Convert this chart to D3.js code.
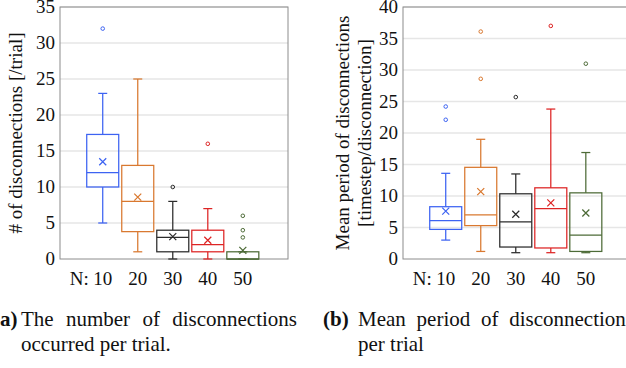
<!DOCTYPE html>
<head>
  <meta charset="utf-8">
  <script src="https://d3js.org/d3.v7.min.js"></script>
  <style>
    body { margin: 0; background: #fff; }
    svg { width: 626px; height: 368px; display: block; }
  </style>
</head>

<body>
  <svg></svg>

  <script>
    const groups = ['10', '20', '30', '40', '50'];
    const colors = ['#3d63f2', '#d9782f', '#2b2b2b', '#dd2424', '#4d6b37'];

    // (a) number of disconnections per trial
    const countLow = [5, 1, 0, 0, 0];
    const countQ1 = [10, 3.8, 1, 1, 0];
    const countMedian = [12, 8, 3, 2, 0];
    const countQ3 = [17.3, 13, 4, 4, 1];
    const countHigh = [23, 25, 8, 7, 1];
    const countMean = [13.5, 8.6, 3.1, 2.6, 1.2];
    const countOutliers = [[32], [], [10], [16], [3, 4, 6]];
    const countTicks = [0, 5, 10, 15, 20, 25, 30, 35];

    // (b) mean period of disconnections
    const periodLow = [3.0, 1.2, 1.0, 1.0, 1.0];
    const periodQ1 = [4.7, 5.3, 1.9, 1.75, 1.2];
    const periodMedian = [6.1, 7.0, 5.9, 8.0, 3.8];
    const periodQ3 = [8.3, 14.55, 10.35, 11.3, 10.5];
    const periodHigh = [13.6, 19.0, 13.5, 23.8, 16.9];
    const periodMean = [7.6, 10.7, 7.1, 8.9, 7.3];
    const periodOutliers = [[22.1, 24.2], [28.6, 36.1], [25.7], [37.0], [31.0]];
    const periodTicks = [0, 5, 10, 15, 20, 25, 30, 35, 40];

    const svg = d3.select('svg');
    const font = "'Liberation Serif', 'Times New Roman', Times, 'DejaVu Serif', serif";

    function txt(sel, size) {
      return sel.attr('font-family', font).attr('font-size', size || 19).attr('fill', '#111');
    }

    function drawPanel(p) {
      const x = d3.scaleLinear().domain([-0.22, 6.29]).range([p.left, p.left + 228]);
      const y = d3.scaleLinear().domain([0, p.yMax]).range([259, 7]);
      const g = svg.append('g');

      // grid
      g.selectAll('.grid').data(p.ticks.slice(1)).enter().append('line')
        .attr('x1', x.range()[0]).attr('x2', x.range()[1])
        .attr('y1', d => y(d)).attr('y2', d => y(d))
        .attr('stroke', '#e6e6e6').attr('stroke-width', 1.3);

      // frame
      g.append('rect')
        .attr('x', x.range()[0]).attr('y', y(p.yMax))
        .attr('width', x.range()[1] - x.range()[0]).attr('height', y(0) - y(p.yMax))
        .attr('fill', 'none').attr('stroke', '#8c8c8c').attr('stroke-width', 1);

      // y tick labels
      txt(g.selectAll('.yt').data(p.ticks).enter().append('text'))
        .attr('x', p.left - 5).attr('y', d => y(d)).attr('dy', '0.34em')
        .attr('text-anchor', 'end')
        .text(d => d);

      // x labels
      txt(g.selectAll('.xt').data(groups).enter().append('text'))
        .attr('x', (d, i) => x(i + 1)).attr('y', 285)
        .attr('text-anchor', 'middle')
        .text(d => d);
      txt(g.append('text')).attr('x', x(1) - 14).attr('y', 285)
        .attr('text-anchor', 'end').text('N:');

      // y axis label
      p.label.forEach((line, k) => {
        txt(g.append('text'))
          .attr('transform', `translate(${p.labelX[k]},${y(p.yMax / 2)}) rotate(-90)`)
          .attr('text-anchor', 'middle')
          .text(line);
      });

      const hw = 16, cap = 4.5;
      groups.forEach((grp, i) => {
        const cx = x(i + 1);
        const c = colors[i];
        const b = g.append('g').attr('stroke', c).attr('stroke-width', 1.25).attr('fill', 'none');
        // whiskers
        b.append('line').attr('x1', cx).attr('x2', cx).attr('y1', y(p.q3[i])).attr('y2', y(p.high[i]));
        b.append('line').attr('x1', cx).attr('x2', cx).attr('y1', y(p.q1[i])).attr('y2', y(p.low[i]));
        b.append('line').attr('x1', cx - cap).attr('x2', cx + cap).attr('y1', y(p.high[i])).attr('y2', y(p.high[i]));
        b.append('line').attr('x1', cx - cap).attr('x2', cx + cap).attr('y1', y(p.low[i])).attr('y2', y(p.low[i]));
        // box
        b.append('rect').attr('x', cx - hw).attr('width', hw * 2)
          .attr('y', y(p.q3[i])).attr('height', y(p.q1[i]) - y(p.q3[i]));
        b.append('line').attr('x1', cx - hw).attr('x2', cx + hw)
          .attr('y1', y(p.median[i])).attr('y2', y(p.median[i]));
        // mean cross
        const my = y(p.mean[i]);
        b.append('path').attr('d', `M${cx - 3.5},${my - 3.5}L${cx + 3.5},${my + 3.5}M${cx - 3.5},${my + 3.5}L${cx + 3.5},${my - 3.5}`);
        // outliers
        b.selectAll('circle').data(p.outliers[i]).enter().append('circle')
          .attr('cx', cx).attr('cy', d => y(d)).attr('r', 1.8).attr('stroke-width', 1);
      });
    }

    drawPanel({
      left: 60, yMax: 35, ticks: countTicks,
      low: countLow, q1: countQ1, median: countMedian, q3: countQ3, high: countHigh,
      mean: countMean, outliers: countOutliers,
      label: ['# of disconnections [/trial]'], labelX: [22]
    });

    drawPanel({
      left: 403, yMax: 40, ticks: periodTicks,
      low: periodLow, q1: periodQ1, median: periodMedian, q3: periodQ3, high: periodHigh,
      mean: periodMean, outliers: periodOutliers,
      label: ['Mean period of disconnections', '[timestep/disconnection]'], labelX: [349, 371]
    });

    // captions, justified like the paper's text
    const capSize = 21;
    function caption(tag, x0, lines, y0) {
      txt(svg.append('text'), capSize).attr('x', x0).attr('y', y0)
        .attr('font-weight', 'bold').text(tag);
      lines.forEach((ln, k) => {
        const yy = y0 + k * 25;
        if (!ln.end) {
          txt(svg.append('text'), capSize).attr('x', ln.start).attr('y', yy).text(ln.text);
          return;
        }
        const words = ln.text.split(' ');
        const nodes = words.map(w => txt(svg.append('text'), capSize).attr('y', yy).text(w));
        const widths = nodes.map(n => n.node().getComputedTextLength());
        const gap = (ln.end - ln.start - d3.sum(widths)) / (words.length - 1);
        let cur = ln.start;
        nodes.forEach((n, j) => { n.attr('x', cur); cur += widths[j] + gap; });
      });
    }

    caption('(a)', -7, [
      { text: 'The number of disconnections', start: 21, end: 297 },
      { text: 'occurred per trial.', start: 21 }
    ], 326);

    caption('(b)', 323, [
      { text: 'Mean period of disconnections', start: 358, end: 634 },
      { text: 'per trial', start: 358 }
    ], 326);
  </script>
</body>
